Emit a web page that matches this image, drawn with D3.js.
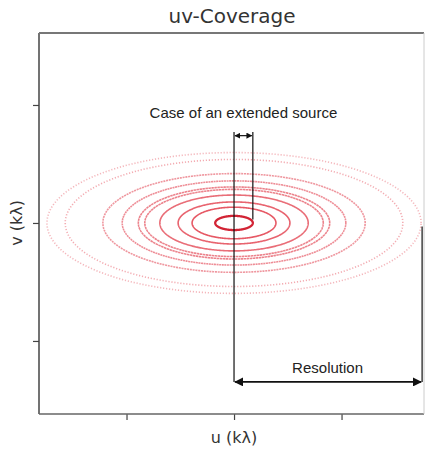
<!DOCTYPE html>
<html>
<head>
<meta charset="utf-8">
<script src="https://cdn.jsdelivr.net/npm/d3@7"></script>
<style>
  html, body { margin: 0; padding: 0; background: #fff; }
  svg { display: block; }
</style>
</head>
<body>
<div id="chart"></div>
<script>
// Semi-major axes of the uv tracks along u (kλ), innermost first
const trackU = [0.175, 0.39, 0.52, 0.69, 0.83, 0.89, 1.04, 1.22, 1.57, 1.74];
// Track opacity, fading outward
const trackAlpha = [0.95, 0.8, 0.75, 0.7, 0.6, 0.6, 0.55, 0.5, 0.4, 0.35];
// Track dash pattern ("" = solid-looking)
const trackDash = ["", "", "", "", "2.5 0.5", "2.5 0.5", "2 0.6", "2 0.8", "1.2 1.8", "1.2 1.8"];
// v/u axis ratio of the elliptical tracks
const trackRatio = [0.343];
// Axis tick positions (labels suppressed)
const uTicks = [-1, 0, 1];
const vTicks = [-1, 0, 1];

const W = 425, H = 452;
const margin = { left: 39, right: 1, top: 33, bottom: 38 };

const svg = d3.select("#chart").append("svg").attr("width", W).attr("height", H);

const x = d3.scaleLinear().domain([-1.814, 1.767]).range([margin.left, W - margin.right]);
const y = d3.scaleLinear().domain([-1.619, 1.610]).range([H - margin.bottom, margin.top]);

const defs = svg.append("defs");
defs.append("marker")
  .attr("id", "arrow")
  .attr("viewBox", "0 0 10 10")
  .attr("refX", 9).attr("refY", 5)
  .attr("markerWidth", 6).attr("markerHeight", 6)
  .attr("markerUnits", "userSpaceOnUse")
  .attr("orient", "auto-start-reverse")
  .append("path").attr("d", "M0,0 L10,5 L0,10 z").attr("fill", "#111");
defs.append("marker")
  .attr("id", "arrowBig")
  .attr("viewBox", "0 0 10 10")
  .attr("refX", 9).attr("refY", 5)
  .attr("markerWidth", 9).attr("markerHeight", 9)
  .attr("markerUnits", "userSpaceOnUse")
  .attr("orient", "auto-start-reverse")
  .append("path").attr("d", "M0,0 L10,5 L0,10 z").attr("fill", "#111");

// uv tracks: ellipses centred on the origin
const angles = d3.range(0, 361, 1).map(d => d * Math.PI / 180);
const line = d3.line().x(d => x(d[0])).y(d => y(d[1]));
const tracks = svg.append("g");
trackU.forEach((a, i) => {
  const b = a * trackRatio[0];
  const pts = angles.map(t => [a * Math.cos(t), b * Math.sin(t)]);
  tracks.append("path")
    .attr("d", line(pts))
    .attr("fill", "none")
    .attr("stroke", i === 0 ? "#d0182a" : "#e0303f")
    .attr("stroke-opacity", trackAlpha[i])
    .attr("stroke-width", i === 0 ? 2.3 : 1.6)
    .attr("stroke-dasharray", trackDash[i] || null);
});

// Axes without tick labels
svg.append("g")
  .attr("transform", `translate(0,${H - margin.bottom})`)
  .call(d3.axisBottom(x).tickValues(uTicks).tickFormat("").tickSizeOuter(0).tickSize(6))
  .call(g => g.select(".domain").remove())
  .call(g => g.selectAll("line").attr("stroke", "#444").attr("stroke-width", 1.2));
svg.append("g")
  .attr("transform", `translate(${margin.left},0)`)
  .call(d3.axisLeft(y).tickValues(vTicks).tickFormat("").tickSizeOuter(0).tickSize(6))
  .call(g => g.select(".domain").remove())
  .call(g => g.selectAll("line").attr("stroke", "#444").attr("stroke-width", 1.2));

// Frame
const frame = svg.append("g").attr("fill", "none");
frame.append("line").attr("x1", margin.left).attr("x2", margin.left)
  .attr("y1", margin.top).attr("y2", H - margin.bottom).attr("stroke", "#444").attr("stroke-width", 1.5);
frame.append("line").attr("x1", margin.left).attr("x2", W - margin.right)
  .attr("y1", H - margin.bottom).attr("y2", H - margin.bottom).attr("stroke", "#666").attr("stroke-width", 1.5);
frame.append("line").attr("x1", margin.left).attr("x2", W - margin.right)
  .attr("y1", margin.top).attr("y2", margin.top).attr("stroke", "#777").attr("stroke-width", 1.8);
frame.append("line").attr("x1", W - margin.right).attr("x2", W - margin.right)
  .attr("y1", margin.top).attr("y2", H - margin.bottom).attr("stroke", "#ccc").attr("stroke-width", 1);

// Annotations
const ann = svg.append("g").attr("stroke", "#111").attr("stroke-width", 1.2).attr("fill", "none");
const aIn = trackU[0], aOut = trackU[trackU.length - 1];
const vTop = 0.77, vArrow = 0.74, vRes = -1.347;
// extended source bracket
ann.append("line").attr("x1", x(0)).attr("x2", x(0)).attr("y1", y(vTop)).attr("y2", y(vRes));
ann.append("line").attr("x1", x(aIn)).attr("x2", x(aIn)).attr("y1", y(vTop)).attr("y2", y(0.03));
ann.append("line").attr("x1", x(0) + 1).attr("x2", x(aIn) - 1).attr("y1", y(vArrow)).attr("y2", y(vArrow))
  .attr("marker-start", "url(#arrow)").attr("marker-end", "url(#arrow)");
// resolution bracket
ann.append("line").attr("x1", x(aOut) + 1).attr("x2", x(aOut) + 1).attr("y1", y(-0.03)).attr("y2", y(vRes));
ann.append("line").attr("x1", x(0) + 1).attr("x2", x(aOut)).attr("y1", y(vRes)).attr("y2", y(vRes))
  .attr("stroke-width", 1.6)
  .attr("marker-start", "url(#arrowBig)").attr("marker-end", "url(#arrowBig)");

svg.append("text")
  .attr("x", (x(0) + x(aIn)) / 2).attr("y", y(0.89))
  .attr("text-anchor", "middle")
  .attr("font-family", "Liberation Sans, Arial, sans-serif").attr("font-size", 15).attr("fill", "#222")
  .text("Case of an extended source");
svg.append("text")
  .attr("x", (x(0) + x(aOut)) / 2).attr("y", y(-1.27))
  .attr("text-anchor", "middle")
  .attr("font-family", "Liberation Sans, Arial, sans-serif").attr("font-size", 15).attr("fill", "#222")
  .text("Resolution");

// Title and axis labels
svg.append("text")
  .attr("x", 232).attr("y", 23)
  .attr("text-anchor", "middle")
  .attr("font-family", "DejaVu Sans, sans-serif").attr("font-size", 20).attr("fill", "#333")
  .text("uv-Coverage");
svg.append("text")
  .attr("x", x(0)).attr("y", 443)
  .attr("text-anchor", "middle")
  .attr("font-family", "DejaVu Sans, sans-serif").attr("font-size", 16).attr("fill", "#333")
  .text("u (kλ)");
svg.append("text")
  .attr("transform", `translate(22,${y(0)}) rotate(-90)`)
  .attr("text-anchor", "middle")
  .attr("font-family", "DejaVu Sans, sans-serif").attr("font-size", 16).attr("fill", "#333")
  .text("v (kλ)");
</script>
</body>
</html>
